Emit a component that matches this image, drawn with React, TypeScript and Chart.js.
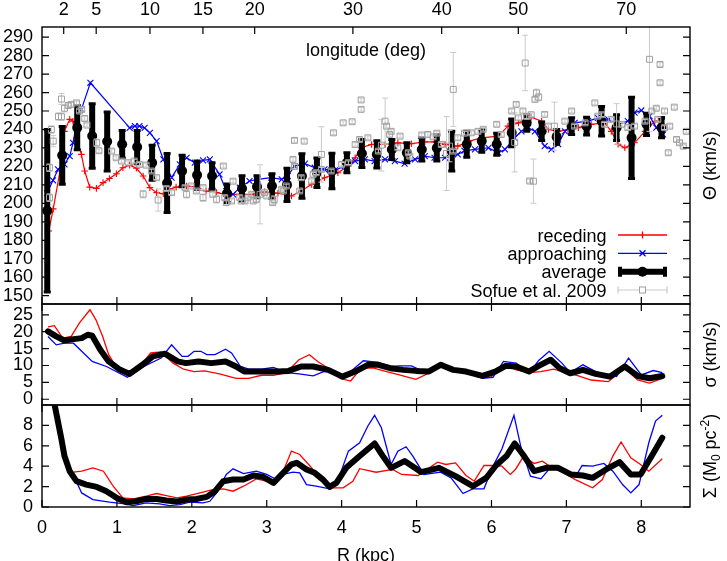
import React, { useEffect, useRef } from 'react';
import { Chart, registerables } from 'chart.js';

Chart.register(...registerables);

const FONT = '"Liberation Sans", Arial, Helvetica, sans-serif';
Chart.defaults.font.family = FONT;
Chart.defaults.font.size = 18;
Chart.defaults.color = '#000';

// ---------------- axes / ticks ----------------
const R0 = 8.3; // kpc, used for the longitude (top) axis: R = R0 sin(l)
const R_MAX = 8.65;
const longitudeTicks = [2, 5, 10, 15, 20, 30, 40, 50, 70];
const rTicks = [0, 1, 2, 3, 4, 5, 6, 7, 8];
const thetaTicks = [150, 160, 170, 180, 190, 200, 210, 220, 230, 240, 250, 260, 270, 280, 290];
const sigmaTicks = [0, 5, 10, 15, 20, 25];
const surfaceTicks = [0, 2, 4, 6, 8];
const thetaRange = [145.5, 295.5];
const sigmaRange = [-1.7, 28.2];
const surfaceRange = [0, 10];
const legendLabels = ['receding', 'approaching', 'average', 'Sofue et al. 2009'];

// ---------------- rotation curve (R kpc, Theta km/s) ----------------
const thetaReceding: [number, number][] = [
  [0.09, 185], [0.15, 197], [0.24, 217.5], [0.3, 239], [0.37, 245.5], [0.414, 244.5], [0.459, 235.5],
  [0.526, 226.5], [0.57, 217.5], [0.637, 208.8], [0.726, 208.1], [0.815, 211.2], [0.9, 213.5], [0.993, 216],
  [1.08, 219.3], [1.17, 220.7], [1.26, 219], [1.35, 214.8], [1.44, 208.5], [1.53, 205.8], [1.62, 205.2],
  [1.7, 207.6], [1.79, 208.8], [1.93, 209.4], [2.06, 208.8], [2.19, 206.7], [2.33, 205.8], [2.46, 204.9],
  [2.64, 204.9], [2.82, 204.9], [2.97, 206.2], [3.15, 205.5], [3.33, 204], [3.46, 206.7], [3.6, 210.3],
  [3.77, 213.9], [3.95, 216.6], [4.09, 220.2], [4.18, 224.7], [4.26, 230.1], [4.4, 231.9], [4.58, 231.9],
  [4.75, 232.8], [4.93, 232.3], [5.11, 233.3], [5.24, 233.3], [5.38, 231.9], [5.55, 231], [5.7, 233.7],
  [5.87, 235.5], [6.09, 236.4], [6.22, 241.8], [6.36, 243.6], [6.53, 246.7], [6.67, 244.5], [6.76, 240],
  [6.89, 239], [7.02, 240], [7.16, 241], [7.33, 242.8], [7.51, 243.6], [7.6, 239], [7.69, 232], [7.78, 230.1],
  [7.91, 232.8], [8.05, 239], [8.18, 244.5], [8.27, 245.5],
];
const thetaApproaching: [number, number][] = [
  [0.067, 205.5], [0.147, 212.5], [0.214, 218.4], [0.3, 221.1], [0.37, 225.6], [0.414, 232.8], [0.459, 242.8],
  [0.526, 250.9], [0.646, 265.3], [1.17, 240.9], [1.24, 241.8], [1.3, 241.8], [1.37, 240.9], [1.44, 238.2],
  [1.53, 233.7], [1.62, 223.8], [1.73, 213.9], [1.84, 221.1], [1.93, 224.7], [2.04, 222], [2.15, 223.3],
  [2.24, 223.8], [2.37, 215.7], [2.46, 206.7], [2.55, 204.9], [2.64, 208.5], [2.77, 212.1], [2.88, 213],
  [3.06, 213.9], [3.2, 213], [3.28, 214.8], [3.37, 220.2], [3.51, 221.5], [3.64, 219.3], [3.77, 218.4],
  [3.91, 217.9], [4.04, 220.2], [4.18, 222.9], [4.31, 223.8], [4.44, 222.9], [4.58, 223.8], [4.71, 222.9],
  [4.84, 221.5], [4.98, 223.8], [5.11, 225.6], [5.24, 224.7], [5.38, 224.7], [5.55, 226.5], [5.64, 228.5],
  [5.78, 229.2], [5.96, 230.1], [6.09, 227.4], [6.18, 229.2], [6.31, 235.5], [6.4, 239], [6.49, 241],
  [6.58, 239], [6.71, 231], [6.8, 229.2], [6.89, 232], [6.98, 239], [7.11, 243.6], [7.29, 244.5],
  [7.42, 246.3], [7.56, 245.5], [7.69, 242.8], [7.82, 244.5], [7.91, 249.1], [8.0, 250.3], [8.11, 247.2],
  [8.2, 241], [8.29, 237.3],
];
// [R, Theta, error]
const thetaAverage: [number, number, number][] = [
  [0.07, 196, 44], [0.27, 226, 15.6], [0.47, 241, 12], [0.67, 236.5, 17.5], [0.87, 233.5, 16], [1.07, 232, 7.5],
  [1.27, 230.5, 9], [1.47, 222, 9.5], [1.67, 211, 16], [1.87, 217.5, 8.5], [2.07, 215.3, 7.6], [2.27, 214.8, 7.2],
  [2.47, 205.5, 5], [2.67, 208, 7], [2.87, 209, 6], [3.07, 209.4, 6.6], [3.27, 210, 9], [3.47, 214.8, 12],
  [3.67, 216.6, 8], [3.87, 217.5, 9.6], [4.07, 222, 5.4], [4.27, 227, 7.6], [4.47, 226.5, 7.4], [4.67, 229.2, 5.4],
  [4.87, 227.4, 5.4], [5.07, 229.2, 6.3], [5.27, 230, 7], [5.47, 228.3, 10.8], [5.67, 232, 7], [5.87, 233.7, 6],
  [6.07, 232, 6], [6.27, 238.2, 7.5], [6.47, 243.6, 4.5], [6.67, 239, 5], [6.87, 236, 4], [7.07, 241.8, 4.5],
  [7.27, 241.8, 4.8], [7.47, 244.5, 8], [7.67, 241, 7], [7.87, 235.5, 22], [8.07, 242.8, 6], [8.27, 241, 5.5],
];
// Sofue et al. 2009 [R, Theta, error]
const thetaSofue: [number, number, number][] = [
  [0.1, 219.3, 2], [0.1, 203.1, 2], [0.125, 240, 2], [0.15, 233.7, 3], [0.22, 247, 2], [0.26, 256.5, 3],
  [0.26, 246.9, 2], [0.3, 251.5, 2], [0.35, 253, 1], [0.39, 253.6, 1], [0.46, 254.4, 1], [0.5, 250, 1],
  [0.53, 250.9, 1], [0.57, 246, 1], [0.6, 242.4, 1], [0.73, 232.8, 2], [0.76, 228.5, 1], [0.93, 228.3, 1],
  [0.99, 224.7, 1], [1.06, 222.9, 1], [1.15, 222, 1], [1.23, 222.9, 1], [1.3, 221.1, 1], [1.35, 205, 2],
  [1.39, 220.7, 1], [1.46, 217.5, 1], [1.53, 213.9, 1], [1.55, 201.8, 6], [1.66, 208, 1], [1.73, 205.8, 1],
  [1.91, 208.5, 1], [1.93, 204.9, 2], [1.99, 209.4, 1], [2.06, 206.7, 1], [2.15, 203.1, 2], [2.15, 208.5, 1],
  [2.28, 204.9, 1], [2.33, 202.2, 2], [2.42, 220.2, 1], [2.44, 203.1, 1], [2.46, 200.4, 1], [2.53, 201.3, 1],
  [2.55, 212, 1], [2.64, 203.1, 1], [2.66, 201.3, 1], [2.71, 201.3, 1], [2.75, 203, 1], [2.8, 204.9, 1],
  [2.82, 201.3, 1], [2.86, 202, 1], [2.91, 204.9, 16], [2.97, 205.8, 1], [3.0, 204, 1], [3.08, 200.4, 1],
  [3.1, 202, 2], [3.2, 207.6, 1], [3.22, 206.7, 1], [3.26, 209.4, 1], [3.35, 223.8, 1], [3.37, 234.1, 1],
  [3.37, 220, 1], [3.44, 206.7, 1], [3.46, 213.9, 1], [3.5, 233.7, 1], [3.6, 212.1, 1], [3.62, 215.7, 1],
  [3.66, 216.6, 1], [3.73, 226.5, 15], [3.73, 218.4, 1], [3.86, 217.5, 1], [3.89, 238.2, 1], [4.0, 221.1, 1],
  [4.02, 243.6, 1], [4.09, 222, 1], [4.14, 244.2, 1], [4.18, 231.9, 1], [4.24, 234.6, 1], [4.26, 256, 1],
  [4.26, 250.9, 1], [4.35, 235.5, 1], [4.49, 228.3, 1], [4.53, 231.5, 14], [4.58, 244.5, 12.5], [4.6, 241.8, 1],
  [4.64, 237.3, 1], [4.66, 239, 1], [4.75, 230.1, 1], [4.78, 236.4, 1], [4.89, 227.4, 1], [4.91, 225.6, 1],
  [5.07, 237, 1], [5.15, 237.3, 1], [5.22, 236, 1], [5.27, 238, 1], [5.33, 231.9, 1], [5.4, 227, 20],
  [5.44, 231, 8.5], [5.49, 261.7, 20], [5.49, 228.3, 1], [5.55, 235.5, 1], [5.64, 238, 1], [5.73, 238.2, 1],
  [5.82, 239, 1], [5.89, 240.1, 1], [6.07, 242.8, 1], [6.13, 237.3, 1], [6.27, 250, 1], [6.31, 233, 16],
  [6.33, 253.6, 1], [6.36, 246.3, 1], [6.42, 250, 1], [6.45, 276, 15], [6.47, 247, 1], [6.51, 212.1, 1],
  [6.53, 248, 1], [6.56, 212, 12], [6.58, 256.3, 1], [6.6, 259.8, 2], [6.63, 257.5, 2], [6.71, 248.2, 1],
  [6.76, 241.8, 1], [6.84, 241.8, 13], [6.98, 244.5, 1], [7.07, 250, 1], [7.11, 241.8, 1], [7.25, 243.6, 1],
  [7.38, 254.4, 1], [7.42, 247.2, 1], [7.47, 248, 1], [7.51, 242.8, 1], [7.6, 245.5, 1], [7.67, 243, 11],
  [7.74, 242.8, 1], [7.82, 241, 1], [7.91, 241.8, 1], [8.05, 244.5, 1], [8.11, 278, 39], [8.14, 250, 1],
  [8.2, 251.5, 1], [8.22, 245.5, 1], [8.25, 275.2, 1], [8.25, 265.3, 1], [8.31, 250, 1], [8.31, 241, 1],
  [8.36, 227.4, 1], [8.38, 241.8, 1], [8.44, 252.1, 1], [8.47, 234.6, 1], [8.51, 232.8, 1], [8.56, 231, 1],
  [8.6, 239, 1],
];

// ---------------- velocity dispersion (km/s) ----------------
const sigmaReceding: [number, number][] = [
  [0.08, 21.4], [0.165, 21.8], [0.276, 18.1], [0.39, 18.6], [0.5, 22.6], [0.64, 26.5], [0.72, 23.5], [0.81, 18.6],
  [0.89, 13.2], [1.0, 9.2], [1.14, 7.5], [1.31, 9.7], [1.45, 13.7], [1.59, 14.0], [1.75, 10.7], [1.89, 8.9],
  [2.03, 8.2], [2.17, 8.4], [2.37, 7.5], [2.59, 6.2], [2.76, 6.2], [2.93, 7.1], [3.09, 7.1], [3.26, 7.9],
  [3.43, 11.7], [3.57, 13.2], [3.68, 11.2], [3.82, 9.2], [3.98, 6.2], [4.12, 5.4], [4.26, 9.2], [4.43, 9.2],
  [4.6, 8.2], [4.77, 7.2], [4.99, 5.9], [5.16, 7.7], [5.32, 10.2], [5.49, 8.7], [5.66, 8.2], [5.83, 6.5],
  [5.99, 6.5], [6.16, 10.2], [6.33, 8.7], [6.5, 7.9], [6.66, 8.2], [6.83, 8.9], [7.0, 7.9], [7.16, 6.9],
  [7.33, 5.7], [7.56, 5.2], [7.78, 9.2], [7.95, 5.7], [8.11, 4.8], [8.28, 6.2],
];
const sigmaApproaching: [number, number][] = [
  [0.08, 18.6], [0.19, 16.1], [0.3, 16.6], [0.42, 16.6], [0.53, 14.2], [0.67, 11.2], [0.86, 9.7], [1.14, 6.5],
  [1.36, 9.7], [1.59, 12.2], [1.73, 16.1], [1.87, 12.7], [1.95, 12.7], [2.03, 14.2], [2.12, 14.2], [2.2, 13.2],
  [2.31, 13.2], [2.45, 14.8], [2.53, 13.7], [2.65, 9.7], [2.76, 8.9], [2.93, 8.9], [3.09, 9.4], [3.26, 7.9],
  [3.43, 7.5], [3.62, 6.9], [3.76, 8.2], [3.87, 8.2], [4.01, 6.9], [4.12, 8.2], [4.29, 11.4], [4.49, 10.9],
  [4.65, 9.7], [4.77, 9.9], [4.93, 9.9], [5.07, 8.5], [5.21, 8.7], [5.35, 10.7], [5.49, 8.2], [5.66, 8.2],
  [5.88, 6.2], [6.02, 6.5], [6.16, 11.2], [6.33, 10.7], [6.5, 7.7], [6.63, 11.5], [6.77, 14.2], [6.94, 10.7],
  [7.05, 7.9], [7.22, 10.2], [7.39, 8.2], [7.56, 7.2], [7.67, 6.7], [7.83, 12.2], [8.0, 7.2], [8.16, 8.5],
  [8.28, 7.9],
];
const sigmaAverage: [number, number][] = [
  [0.08, 20.1], [0.19, 18.6], [0.3, 17.4], [0.42, 17.8], [0.53, 18.1], [0.61, 19.1], [0.67, 18.8], [0.78, 14.6],
  [0.89, 11.2], [1.03, 8.9], [1.17, 7.5], [1.34, 10.2], [1.48, 12.7], [1.64, 13.5], [1.81, 11.2], [1.92, 10.7],
  [2.09, 11.2], [2.26, 10.7], [2.45, 11.2], [2.59, 9.7], [2.7, 8.2], [2.93, 8.2], [3.15, 8.2], [3.29, 8.4],
  [3.46, 9.7], [3.62, 9.7], [3.82, 8.7], [4.01, 6.7], [4.18, 8.2], [4.35, 10.2], [4.49, 10.2], [4.65, 9.2],
  [4.82, 8.7], [4.99, 8.4], [5.16, 8.2], [5.32, 10.2], [5.49, 8.7], [5.66, 8.2], [5.88, 6.9], [6.05, 8.2],
  [6.19, 9.9], [6.33, 9.7], [6.5, 8.2], [6.63, 9.9], [6.79, 11.7], [6.91, 9.2], [7.05, 7.7], [7.22, 8.7],
  [7.39, 7.5], [7.58, 6.7], [7.78, 9.7], [7.95, 6.9], [8.11, 6.2], [8.28, 6.9],
];

// ---------------- surface density (M0 pc^-2) ----------------
const surfaceReceding: [number, number][] = [
  [0.42, 3.41], [0.53, 3.51], [0.68, 3.84], [0.82, 3.51], [0.95, 2.04], [1.08, 0.89], [1.22, 0.79], [1.39, 1.06],
  [1.53, 1.32], [1.66, 1.12], [1.8, 0.89], [1.93, 1.06], [2.11, 1.38], [2.28, 1.71], [2.42, 1.78], [2.55, 1.55],
  [2.69, 2.04], [2.86, 2.76], [3.0, 2.53], [3.11, 2.2], [3.22, 3.51], [3.33, 5.48], [3.44, 5.15], [3.58, 4.0],
  [3.71, 2.86], [3.84, 1.88], [4.02, 1.88], [4.15, 2.53], [4.24, 3.76], [4.46, 3.41], [4.68, 3.68], [4.8, 3.19],
  [5.02, 3.09], [5.28, 4.4], [5.39, 4.17], [5.52, 4.33], [5.66, 3.09], [5.77, 2.53], [5.9, 4.07], [6.01, 4.07],
  [6.14, 4.0], [6.25, 3.19], [6.32, 3.68], [6.43, 4.99], [6.57, 4.27], [6.68, 4.5], [6.81, 3.84], [6.95, 3.41],
  [7.12, 2.69], [7.35, 1.88], [7.48, 2.69], [7.62, 4.99], [7.73, 6.37], [7.86, 4.82], [7.99, 4.17], [8.1, 3.51],
  [8.28, 4.73],
];
const surfaceApproaching: [number, number][] = [
  [0.42, 3.09], [0.53, 1.38], [0.68, 0.73], [0.9, 0.47], [1.08, 0.34], [1.22, 0.14], [1.39, 0.4], [1.57, 0.3],
  [1.7, 0.14], [1.84, 0.24], [1.97, 0.47], [2.15, 0.4], [2.24, 0.56], [2.33, 1.38], [2.46, 3.19], [2.55, 3.74],
  [2.69, 3.28], [2.86, 3.51], [3.0, 3.19], [3.13, 2.69], [3.22, 3.19], [3.35, 3.41], [3.44, 3.35], [3.53, 2.2],
  [3.66, 2.04], [3.84, 1.78], [3.97, 3.02], [4.09, 5.48], [4.24, 6.3], [4.35, 7.94], [4.44, 8.99], [4.53, 7.77],
  [4.66, 4.17], [4.75, 5.48], [4.86, 5.91], [4.95, 4.99], [5.1, 3.19], [5.32, 3.41], [5.46, 2.86], [5.62, 1.32],
  [5.75, 1.78], [5.9, 1.78], [6.01, 3.84], [6.14, 5.71], [6.3, 8.99], [6.39, 5.97], [6.52, 3.02], [6.66, 2.76],
  [6.81, 4.07], [6.95, 3.74], [7.12, 2.96], [7.21, 4.07], [7.35, 4.0], [7.5, 4.27], [7.62, 3.51], [7.75, 2.2],
  [7.86, 1.38], [7.97, 2.2], [8.1, 6.3], [8.19, 8.43], [8.28, 8.99],
];
const surfaceAverage: [number, number][] = [
  [0.1, 12.6], [0.17, 9.97], [0.26, 6.63], [0.3, 4.99], [0.37, 3.51], [0.46, 2.53], [0.59, 2.2], [0.73, 1.97],
  [0.86, 1.55], [1.0, 0.89], [1.13, 0.47], [1.26, 0.56], [1.39, 0.79], [1.53, 0.79], [1.66, 0.63], [1.8, 0.53],
  [1.93, 0.73], [2.06, 0.79], [2.2, 0.99], [2.31, 1.55], [2.42, 2.53], [2.55, 2.69], [2.69, 2.69], [2.82, 3.09],
  [2.95, 2.96], [3.09, 2.37], [3.2, 3.19], [3.33, 4.17], [3.4, 4.33], [3.53, 3.68], [3.64, 3.35], [3.75, 2.69],
  [3.84, 1.97], [3.93, 2.37], [4.06, 3.84], [4.24, 5.0], [4.44, 6.23], [4.55, 4.99], [4.66, 3.84], [4.84, 4.5],
  [5.06, 3.42], [5.3, 3.84], [5.52, 3.02], [5.75, 2.04], [5.93, 2.86], [6.06, 4.07], [6.2, 4.99], [6.31, 6.23],
  [6.42, 5.15], [6.57, 3.51], [6.73, 3.84], [6.89, 3.84], [7.06, 3.19], [7.22, 3.09], [7.35, 2.86], [7.53, 3.68],
  [7.71, 4.4], [7.86, 3.19], [7.99, 3.19], [8.15, 5.15], [8.28, 6.79],
];

// ---------------- helpers ----------------
const RED = '#ff0000';
const BLUE = '#0000ff';
const SOFUE_MARK = '#a0a0a0';
const SOFUE_BAR = '#cacaca';

const xy = (arr: number[][]) => arr.map((p) => ({ x: p[0], y: p[1] }));
const longitudeToR = (l: number) => R0 * Math.sin((l * Math.PI) / 180);

const zeroPad = (s: any) => {
  s.paddingTop = 0;
  s.paddingBottom = 0;
  s.paddingLeft = 0;
  s.paddingRight = 0;
};

function framePlugin(id: string, xTicks: number[], topTicks: number[], yTicks: number[]) {
  return {
    id,
    afterDatasetsDraw(chart: any) {
      const { ctx, chartArea: a } = chart;
      const xs = chart.scales.x;
      const ys = chart.scales.y;
      const L = 7;
      ctx.save();
      ctx.strokeStyle = '#000';
      ctx.lineWidth = 1.2;
      ctx.beginPath();
      xTicks.forEach((v) => {
        const px = xs.getPixelForValue(v);
        ctx.moveTo(px, a.bottom);
        ctx.lineTo(px, a.bottom - L);
      });
      topTicks.forEach((v) => {
        const px = xs.getPixelForValue(v);
        ctx.moveTo(px, a.top);
        ctx.lineTo(px, a.top + L);
      });
      yTicks.forEach((v) => {
        const py = ys.getPixelForValue(v);
        ctx.moveTo(a.left, py);
        ctx.lineTo(a.left + L, py);
        ctx.moveTo(a.right, py);
        ctx.lineTo(a.right - L, py);
      });
      ctx.stroke();
      ctx.lineWidth = 1.4;
      ctx.strokeRect(a.left, a.top, a.right - a.left, a.bottom - a.top);
      ctx.restore();
    },
  };
}

type BarSpec = { index: number; data: number[][]; color: string; width: number; cap: number; capWidth: number };
function errorBarPlugin(specs: BarSpec[]) {
  return {
    id: 'errorBars',
    beforeDatasetDraw(chart: any, args: any) {
      const spec = specs.find((s) => s.index === args.index);
      if (!spec) return;
      const { ctx, chartArea: a } = chart;
      const xs = chart.scales.x;
      const ys = chart.scales.y;
      ctx.save();
      ctx.beginPath();
      ctx.rect(a.left, a.top, a.right - a.left, a.bottom - a.top);
      ctx.clip();
      ctx.strokeStyle = spec.color;
      ctx.lineCap = 'butt';
      spec.data.forEach((p) => {
        const px = xs.getPixelForValue(p[0]);
        const y1 = ys.getPixelForValue(p[1] - p[2]);
        const y2 = ys.getPixelForValue(p[1] + p[2]);
        ctx.lineWidth = spec.width;
        ctx.beginPath();
        ctx.moveTo(px, y1);
        ctx.lineTo(px, y2);
        ctx.stroke();
        if (spec.cap > 0) {
          ctx.lineWidth = spec.capWidth;
          ctx.beginPath();
          ctx.moveTo(px - spec.cap, y1);
          ctx.lineTo(px + spec.cap, y1);
          ctx.moveTo(px - spec.cap, y2);
          ctx.lineTo(px + spec.cap, y2);
          ctx.stroke();
        }
      });
      ctx.restore();
    },
  };
}

type Seg = { text: string; size: number; dy?: number };
function drawRotatedTitle(ctx: CanvasRenderingContext2D, cx: number, cy: number, segs: Seg[]) {
  ctx.save();
  ctx.translate(cx, cy);
  ctx.rotate(-Math.PI / 2);
  ctx.fillStyle = '#000';
  ctx.textAlign = 'left';
  ctx.textBaseline = 'alphabetic';
  let total = 0;
  const widths = segs.map((s) => {
    ctx.font = `${s.size}px ${FONT}`;
    const w = ctx.measureText(s.text).width;
    total += w;
    return w;
  });
  let x = -total / 2;
  segs.forEach((s, i) => {
    ctx.font = `${s.size}px ${FONT}`;
    ctx.fillText(s.text, x, 6.5 + (s.dy || 0));
    x += widths[i];
  });
  ctx.restore();
}

function titlePlugin(id: string, segs: Seg[]) {
  return {
    id,
    afterDraw(chart: any) {
      const a = chart.chartArea;
      drawRotatedTitle(chart.ctx, 709, (a.top + a.bottom) / 2, segs);
    },
  };
}

const topTextPlugin = {
  id: 'topText',
  afterDraw(chart: any) {
    const ctx: CanvasRenderingContext2D = chart.ctx;
    ctx.save();
    ctx.font = `18px ${FONT}`;
    ctx.fillStyle = '#000';
    ctx.textBaseline = 'alphabetic';
    ctx.textAlign = 'left';
    ctx.fillText('longitude (deg)', 306, 55.5);

    // key
    const tx = 606.5;
    const x1 = 618;
    const x2 = 667;
    const xm = (x1 + x2) / 2;
    const rows = [235, 253.3, 271.7, 290];
    ctx.textAlign = 'right';
    legendLabels.forEach((lab, i) => ctx.fillText(lab, tx, rows[i] + 6.5));

    // receding
    ctx.strokeStyle = RED;
    ctx.lineWidth = 1.3;
    ctx.beginPath();
    ctx.moveTo(x1, rows[0]);
    ctx.lineTo(x2, rows[0]);
    ctx.moveTo(xm, rows[0] - 3.5);
    ctx.lineTo(xm, rows[0] + 3.5);
    ctx.stroke();
    // approaching
    ctx.strokeStyle = BLUE;
    ctx.beginPath();
    ctx.moveTo(x1, rows[1]);
    ctx.lineTo(x2, rows[1]);
    ctx.moveTo(xm - 3, rows[1] - 3);
    ctx.lineTo(xm + 3, rows[1] + 3);
    ctx.moveTo(xm - 3, rows[1] + 3);
    ctx.lineTo(xm + 3, rows[1] - 3);
    ctx.stroke();
    // average
    ctx.strokeStyle = '#000';
    ctx.fillStyle = '#000';
    ctx.lineWidth = 6;
    ctx.beginPath();
    ctx.moveTo(x1, rows[2]);
    ctx.lineTo(x2, rows[2]);
    ctx.stroke();
    ctx.lineWidth = 4;
    ctx.beginPath();
    ctx.moveTo(x1 + 2, rows[2] - 5);
    ctx.lineTo(x1 + 2, rows[2] + 5);
    ctx.moveTo(x2 - 2, rows[2] - 5);
    ctx.lineTo(x2 - 2, rows[2] + 5);
    ctx.stroke();
    ctx.beginPath();
    ctx.arc(xm, rows[2], 5, 0, Math.PI * 2);
    ctx.fill();
    // Sofue
    ctx.strokeStyle = SOFUE_BAR;
    ctx.lineWidth = 1.2;
    ctx.beginPath();
    ctx.moveTo(x1, rows[3]);
    ctx.lineTo(x2, rows[3]);
    ctx.moveTo(x1, rows[3] - 3.5);
    ctx.lineTo(x1, rows[3] + 3.5);
    ctx.moveTo(x2, rows[3] - 3.5);
    ctx.lineTo(x2, rows[3] + 3.5);
    ctx.stroke();
    ctx.fillStyle = '#fff';
    ctx.fillRect(xm - 3, rows[3] - 3, 6, 6);
    ctx.strokeStyle = SOFUE_MARK;
    ctx.lineWidth = 1;
    ctx.strokeRect(xm - 3, rows[3] - 3, 6, 6);
    ctx.restore();
  },
};

const hiddenGrid = { display: false, drawTicks: false };
const noBorder = { display: false };

function yScale(range: number[], ticks: number[]) {
  return {
    type: 'linear',
    position: 'left',
    min: range[0],
    max: range[1],
    grid: hiddenGrid,
    border: noBorder,
    afterBuildTicks: (s: any) => {
      s.ticks = ticks.map((v) => ({ value: v }));
    },
    afterFit: (s: any) => {
      s.width = 42;
      zeroPad(s);
    },
    ticks: { autoSkip: false, padding: 9, callback: (v: any) => String(v), font: { size: 18, family: FONT } },
  };
}

function hiddenX() {
  return { type: 'linear', min: 0, max: R_MAX, display: false, grid: hiddenGrid, border: noBorder };
}

const baseOptions = {
  responsive: false,
  animation: false,
  devicePixelRatio: 1,
  events: [],
};

function lineDataset(label: string, data: number[][], color: string, width: number, extra: any = {}) {
  return {
    label,
    data: xy(data),
    borderColor: color,
    backgroundColor: color,
    borderWidth: width,
    pointRadius: 0,
    tension: 0,
    xAxisID: 'x',
    yAxisID: 'y',
    clip: 0,
    ...extra,
  };
}

// canvas placement (page px): chart areas 27-304, 304-405, 405-507; x 42-690
const C1 = { top: 0, height: 316 };
const C2 = { top: 292, height: 126 };
const C3 = { top: 392, height: 178 };

function config1(): any {
  return {
    type: 'line',
    data: {
      datasets: [
        {
          label: legendLabels[3],
          data: xy(thetaSofue),
          showLine: false,
          pointStyle: 'rect',
          pointRadius: 4.2,
          pointBorderWidth: 1,
          pointBorderColor: SOFUE_MARK,
          pointBackgroundColor: 'rgba(255,255,255,0)',
          borderColor: SOFUE_MARK,
          xAxisID: 'x',
          yAxisID: 'y',
        },
        {
          label: legendLabels[2],
          data: xy(thetaAverage),
          showLine: false,
          pointStyle: 'circle',
          pointRadius: 5,
          pointBorderWidth: 0,
          pointBackgroundColor: '#000',
          pointBorderColor: '#000',
          borderColor: '#000',
          xAxisID: 'x',
          yAxisID: 'y',
        },
        {
          label: legendLabels[1],
          data: xy(thetaApproaching),
          borderColor: BLUE,
          borderWidth: 1.2,
          tension: 0,
          pointStyle: 'crossRot',
          pointRadius: 4.2,
          pointBorderWidth: 1.1,
          pointBorderColor: BLUE,
          pointBackgroundColor: BLUE,
          xAxisID: 'x',
          yAxisID: 'y',
        },
        {
          label: legendLabels[0],
          data: xy(thetaReceding),
          borderColor: RED,
          borderWidth: 1.2,
          tension: 0,
          pointStyle: 'cross',
          pointRadius: 3.3,
          pointBorderWidth: 1.1,
          pointBorderColor: RED,
          pointBackgroundColor: RED,
          xAxisID: 'x',
          yAxisID: 'y',
        },
      ],
    },
    options: {
      ...baseOptions,
      layout: { padding: { left: 0, right: 37, top: 0, bottom: C1.height - 304 } },
      plugins: { legend: { display: false }, tooltip: { enabled: false } },
      scales: {
        x: hiddenX(),
        x2: {
          type: 'linear',
          position: 'top',
          min: 0,
          max: R_MAX,
          grid: hiddenGrid,
          border: noBorder,
          afterBuildTicks: (s: any) => {
            s.ticks = longitudeTicks.map((l) => ({ value: longitudeToR(l) }));
          },
          afterFit: (s: any) => {
            s.height = 27;
            zeroPad(s);
          },
          ticks: {
            autoSkip: false,
            maxRotation: 0,
            minRotation: 0,
            padding: 6,
            callback: (_v: any, i: number) => String(longitudeTicks[i]),
          },
        },
        y: yScale(thetaRange, thetaTicks),
      },
    },
    plugins: [
      errorBarPlugin([
        { index: 0, data: thetaSofue, color: SOFUE_BAR, width: 1, cap: 3, capWidth: 1 },
        { index: 1, data: thetaAverage, color: '#000', width: 6, cap: 3.5, capWidth: 3 },
      ]),
      framePlugin('frame1', rTicks, longitudeTicks.map(longitudeToR), thetaTicks),
      titlePlugin('title1', [{ text: 'Θ (km/s)', size: 18 }]),
      topTextPlugin,
    ],
  };
}

function config2(): any {
  return {
    type: 'line',
    data: {
      datasets: [
        lineDataset(legendLabels[2], sigmaAverage, '#000', 6, { borderJoinStyle: 'round', borderCapStyle: 'round' }),
        lineDataset(legendLabels[1], sigmaApproaching, BLUE, 1.3),
        lineDataset(legendLabels[0], sigmaReceding, RED, 1.3),
      ],
    },
    options: {
      ...baseOptions,
      layout: { padding: { left: 0, right: 37, top: 304 - C2.top, bottom: C2.top + C2.height - 405 } },
      plugins: { legend: { display: false }, tooltip: { enabled: false } },
      scales: { x: hiddenX(), y: yScale(sigmaRange, sigmaTicks) },
    },
    plugins: [framePlugin('frame2', rTicks, rTicks, sigmaTicks), titlePlugin('title2', [{ text: 'σ (km/s)', size: 18 }])],
  };
}

function config3(): any {
  return {
    type: 'line',
    data: {
      datasets: [
        lineDataset(legendLabels[2], surfaceAverage, '#000', 6, { borderJoinStyle: 'round', borderCapStyle: 'round' }),
        lineDataset(legendLabels[1], surfaceApproaching, BLUE, 1.3),
        lineDataset(legendLabels[0], surfaceReceding, RED, 1.3),
      ],
    },
    options: {
      ...baseOptions,
      layout: { padding: { left: 0, right: 37, top: 405 - C3.top, bottom: 0 } },
      plugins: { legend: { display: false }, tooltip: { enabled: false } },
      scales: {
        x: {
          type: 'linear',
          position: 'bottom',
          min: 0,
          max: R_MAX,
          grid: hiddenGrid,
          border: noBorder,
          afterBuildTicks: (s: any) => {
            s.ticks = rTicks.map((v) => ({ value: v }));
          },
          afterFit: (s: any) => {
            s.height = C3.top + C3.height - 507;
            zeroPad(s);
          },
          ticks: { autoSkip: false, maxRotation: 0, minRotation: 0, padding: 10, callback: (v: any) => String(v) },
          title: {
            display: true,
            text: 'R (kpc)',
            font: { size: 18, family: FONT },
            padding: { top: 0, bottom: C3.top + C3.height - 567 },
          },
        },
        y: yScale(surfaceRange, surfaceTicks),
      },
    },
    plugins: [
      framePlugin('frame3', rTicks, rTicks, surfaceTicks),
      titlePlugin('title3', [
        { text: 'Σ (M', size: 18 },
        { text: '0', size: 12, dy: 4 },
        { text: ' pc', size: 18 },
        { text: '-2', size: 12, dy: -7 },
        { text: ')', size: 18 },
      ]),
    ],
  };
}

export default function App() {
  const c1 = useRef<HTMLCanvasElement>(null);
  const c2 = useRef<HTMLCanvasElement>(null);
  const c3 = useRef<HTMLCanvasElement>(null);

  useEffect(() => {
    const charts = [
      new Chart(c1.current as HTMLCanvasElement, config1()),
      new Chart(c2.current as HTMLCanvasElement, config2()),
      new Chart(c3.current as HTMLCanvasElement, config3()),
    ];
    return () => charts.forEach((c) => c.destroy());
  }, []);

  const cs = (c: { top: number; height: number }) =>
    ({ position: 'absolute', left: 0, top: c.top, width: 727, height: c.height } as React.CSSProperties);

  return (
    <div
      style={{
        position: 'fixed',
        left: 0,
        top: 0,
        width: 727,
        height: 561,
        overflow: 'hidden',
        background: '#fff',
      }}
    >
      <canvas ref={c1} width={727} height={C1.height} style={cs(C1)} />
      <canvas ref={c2} width={727} height={C2.height} style={cs(C2)} />
      <canvas ref={c3} width={727} height={C3.height} style={cs(C3)} />
    </div>
  );
}
